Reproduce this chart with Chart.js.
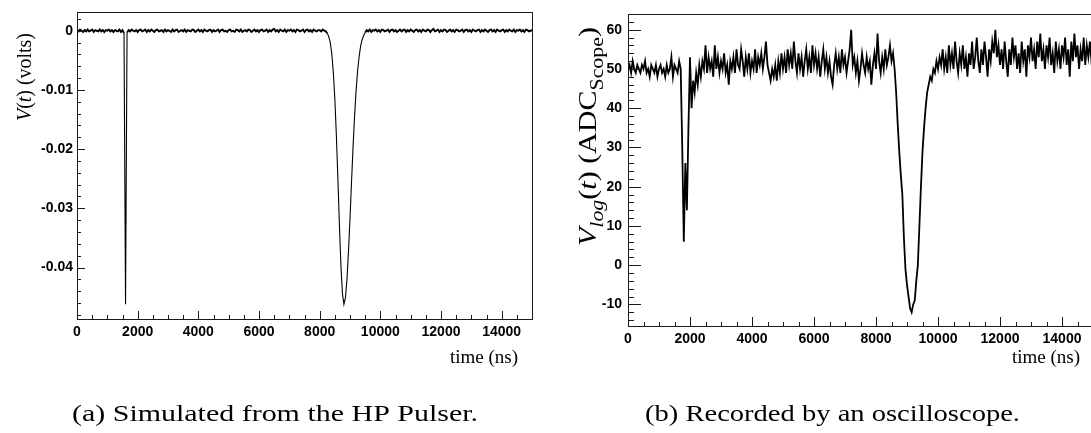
<!DOCTYPE html>
<html>
<head>
<meta charset="utf-8">
<script src="https://cdn.jsdelivr.net/npm/chart.js@4.4.1/dist/chart.umd.min.js"></script>
<style>
  html, body { margin: 0; padding: 0; background: #fff; overflow: hidden; }
  body { width: 1091px; height: 433px; position: relative; }
  .panel { position: absolute; top: 0; height: 433px; }
  #simPanel { left: 0; width: 545px; }
  #scopePanel { left: 550px; width: 560px; }
</style>
</head>
<body>
<div class="panel" id="simPanel"><canvas id="simChart"></canvas></div>
<div class="panel" id="scopePanel"><canvas id="scopeChart"></canvas></div>
<script>
    // one sample every 50 ns, 0 .. 15000 ns
    const sampleStep = 50;

    // (a) simulated pulser output, volts
    const simVolts = [
      0.0001,-0.0001,0.0002,0,-0.0002,0.0001,-0.0001,0.0002,-0.0001,0,0.0002,-0.0002,0.0001,0,-0.0001,0.0002,-0.0001,0.0001,-0.0002,0.0001,
      0,0.0002,-0.0001,0.0001,-0.0002,0.0001,0,-0.0001,0.0002,-0.0002,0.0001,-0.0004,-0.0462,-0.0003,0.0001,-0.0001,0.0002,0,-0.0001,0.0001,
      -0.0002,0.0001,0.0002,-0.0001,0,0.0002,-0.0002,0.0001,-0.0001,0.0002,0,-0.0002,0.0001,0.0002,-0.0001,0,0.0001,-0.0002,0.0002,-0.0001,
      0.0001,0,-0.0002,0.0002,-0.0001,0.0001,0.0002,-0.0002,0,0.0001,-0.0001,0.0002,-0.0002,0.0001,0,-0.0001,0.0002,0.0001,-0.0002,0,
      0.0002,-0.0001,0.0001,-0.0002,0.0002,0,-0.0001,0.0001,0.0002,-0.0002,0.0001,-0.0001,0,0.0002,-0.0002,0.0001,0.0002,-0.0001,0,-0.0002,
      0.0001,0.0002,-0.0001,0,-0.0002,0.0002,0.0001,-0.0001,0.0002,-0.0002,0,0.0001,-0.0001,0.0002,0.0001,-0.0002,0,0.0002,-0.0001,0.0001,
      -0.0002,0.0001,0.0002,-0.0001,0,0.0002,-0.0002,0.0001,-0.0001,0.0002,0.0003,-0.0001,0.0001,-0.0002,0.0002,0,-0.0001,0.0002,-0.0002,0.0001,
      0,0.0002,-0.0001,0.0001,-0.0002,0.0002,0.0001,-0.0001,0,0.0002,-0.0002,0.0001,0.0002,-0.0001,0.0001,-0.0002,0.0002,0,-0.0001,0.0001,
      0.0001,-0.0001,0.0002,0,-0.0001,-0.0004,-0.0010,-0.0020,-0.0039,-0.0070,-0.0115,-0.0176,-0.0249,-0.0327,-0.0396,-0.0444,-0.0462,-0.0451,-0.0420,-0.0373,
      -0.0317,-0.0256,-0.0197,-0.0145,-0.0102,-0.0068,-0.0044,-0.0026,-0.0015,-0.0008,-0.0003,0.0001,-0.0001,0.0002,-0.0002,0.0001,0,0.0002,-0.0001,0.0001,
      -0.0002,0.0002,0.0001,-0.0001,0,0.0002,-0.0002,0.0001,0.0002,-0.0001,0.0001,-0.0002,0,0.0002,-0.0001,0.0001,0.0002,-0.0002,0.0001,-0.0001,
      0.0002,0,-0.0002,0.0001,0.0002,-0.0001,0.0001,-0.0002,0.0002,0,-0.0001,0.0002,0.0001,-0.0002,0.0001,0.0003,-0.0001,0,0.0002,-0.0002,
      0.0001,-0.0001,0.0002,0.0001,-0.0002,0,0.0002,-0.0001,0.0001,-0.0002,0.0002,0.0001,-0.0001,0,0.0002,-0.0002,0.0001,0.0002,-0.0001,0.0001,
      -0.0002,0.0002,0,-0.0001,0.0001,0.0002,-0.0002,0.0001,-0.0001,0.0002,0,-0.0002,0.0001,0.0002,-0.0001,0.0001,-0.0002,0.0002,0,-0.0001,
      0.0001,0.0002,-0.0002,0.0001,-0.0001,0.0002,0,-0.0001,0.0002,-0.0002,0.0001,0,0.0002,-0.0001,0.0001,-0.0002,0.0002,0.0001,-0.0001,0,
      0.0001
    ];

    // (b) oscilloscope record, ADC counts
    const scopeAdc = [
      50,51,49,52,50,49,51,50,49,51,50,52,49,50,48,51,50,49,51,48,
      50,51,49,50,48,51,49,50,53,48,51,50,49,52,50,30,6,26,14,35,
      53,40,47,44,49,46,51,48,52,50,56,49,53,50,52,48,56,50,53,49,
      52,50,54,49,51,46,52,50,53,49,55,51,50,55,52,48,53,50,54,49,
      52,50,55,49,53,51,54,50,53,57,51,49,47,50,48,51,47,52,49,54,
      50,53,49,55,51,54,50,57,52,49,54,50,53,48,52,55,50,53,49,56,
      51,54,50,53,48,52,55,50,53,49,52,48,46,51,54,50,53,49,55,51,
      53,49,52,55,60,51,53,49,52,47,50,54,51,49,53,50,52,46,51,54,
      50,59,52,49,53,50,55,51,53,56,52,54,50,44,36,29,23,18,7,-1,
      -5,-8,-11,-12,-10,-9,-4,0,10,20,29,35,40,44,46,48,47,50,49,52,
      50,53,51,55,50,53,49,56,51,54,50,57,52,49,54,51,56,50,53,48,
      54,51,57,50,53,58,52,49,55,51,57,53,48,55,52,57,54,60,53,56,
      51,55,50,57,52,48,55,51,58,53,56,50,54,49,57,52,55,48,56,53,
      58,52,55,50,57,53,59,52,55,50,56,53,58,51,54,49,57,52,55,50,
      56,53,58,51,55,48,57,52,59,53,56,50,55,52,58,51,56,53,57,52,
      55
    ];

    const xTicks = [0, 2000, 4000, 6000, 8000, 10000, 12000, 14000];
    const simYTicks = [0, -0.01, -0.02, -0.03, -0.04];
    const scopeYTicks = [-10, 0, 10, 20, 30, 40, 50, 60];

    const sampleTimes = simVolts.map((_, i) => i * sampleStep);

    const tickFont = { family: 'Liberation Sans', weight: 'bold', size: 14 };
    const serif = '"Liberation Serif", "Times New Roman", serif';

    // rotated axis title made of pieces (italic / subscript), stretched to `len` px
    function drawRotatedTitle(ctx, pieces, baseX, endY, size, len) {
      let total = 0;
      const fonts = pieces.map(p =>
        (p.italic ? 'italic ' : '') + (p.sub ? Math.round(size * 0.72) : size) + 'px ' + serif);
      const widths = pieces.map((p, i) => {
        ctx.font = fonts[i];
        const w = ctx.measureText(p.t).width;
        total += w;
        return w;
      });
      const sx = len / total;
      ctx.save();
      ctx.translate(baseX, endY + len);
      ctx.rotate(-Math.PI / 2);
      ctx.scale(sx, 1);
      ctx.fillStyle = '#000';
      ctx.textBaseline = 'alphabetic';
      let cx = 0;
      pieces.forEach((p, i) => {
        ctx.font = fonts[i];
        ctx.fillText(p.t, cx, p.sub ? size * 0.28 : 0);
        cx += widths[i];
      });
      ctx.restore();
    }

    // caption stretched to the width it has in the paper (Computer Modern is wide)
    function drawCaption(ctx, text, left, right, baseY) {
      ctx.save();
      ctx.font = '24px ' + serif;
      ctx.fillStyle = '#000';
      ctx.textBaseline = 'alphabetic';
      ctx.textAlign = 'left';
      const w = ctx.measureText(text).width;
      ctx.translate(left, baseY);
      ctx.scale((right - left) / w, 1);
      ctx.fillText(text, 0, 0);
      ctx.restore();
    }

    // ROOT-like frame with inward ticks, axis titles and caption
    function rootDecor(cfg) {
      return {
        id: 'rootDecor',
        afterDraw(chart) {
          const { ctx, chartArea: a, scales: { x, y } } = chart;
          ctx.save();
          ctx.strokeStyle = '#1a1a1a';
          ctx.lineWidth = 1;
          ctx.strokeRect(Math.round(a.left) + 0.5, Math.round(a.top) + 0.5,
                         Math.round(a.right - a.left), Math.round(a.bottom - a.top));
          ctx.beginPath();
          for (let v = 0; v <= 15000; v += 500) {
            const px = Math.round(x.getPixelForValue(v)) + 0.5;
            const len = v % 2000 === 0 ? cfg.xMajor : cfg.xMinor;
            ctx.moveTo(px, a.bottom);
            ctx.lineTo(px, a.bottom - len);
          }
          for (let k = cfg.yMinorFrom; k <= cfg.yMinorTo; k++) {
            const v = k * cfg.yMinorStep;
            const py = Math.round(y.getPixelForValue(v)) + 0.5;
            const len = k % cfg.yMinorPerMajor === 0 ? cfg.yMajor : cfg.yMinor;
            ctx.moveTo(a.left, py);
            ctx.lineTo(a.left + len, py);
          }
          ctx.stroke();

          ctx.font = '19px ' + serif;
          ctx.fillStyle = '#000';
          ctx.textAlign = 'right';
          ctx.textBaseline = 'alphabetic';
          ctx.fillText('time (ns)', cfg.xTitleRight, cfg.xTitleY);
          ctx.restore();

          drawRotatedTitle(ctx, cfg.yTitle, cfg.yTitleX, cfg.yTitleEnd, cfg.yTitleSize, cfg.yTitleLen);
          drawCaption(ctx, cfg.caption, cfg.capLeft, cfg.capRight, cfg.capY);
        }
      };
    }

    function makeChart(id, values, yMin, yMax, yTicks, fmt, box, decor) {
      return new Chart(document.getElementById(id), {
        type: 'line',
        data: {
          datasets: [{
            data: values.map((v, i) => ({ x: sampleTimes[i], y: v })),
            borderColor: '#000',
            borderWidth: box.lineWidth,
            segment: { borderWidth: box.segWidth },
            pointRadius: 0,
            tension: 0
          }]
        },
        options: {
          responsive: true,
          maintainAspectRatio: false,
          animation: false,
          layout: { padding: { top: box.top, right: box.right, left: 0, bottom: 0 } },
          plugins: { legend: { display: false }, tooltip: { enabled: false } },
          scales: {
            x: {
              type: 'linear', min: 0, max: 15000,
              grid: { display: false, drawTicks: false },
              border: { display: false },
              afterFit(s) { s.height = box.xHeight; },
              afterBuildTicks(s) { s.ticks = xTicks.map(v => ({ value: v })); },
              ticks: { autoSkip: false, maxRotation: 0, padding: 5, color: '#000', font: tickFont,
                       callback: v => String(v) }
            },
            y: {
              type: 'linear', min: yMin, max: yMax,
              grid: { display: false, drawTicks: false },
              border: { display: false },
              afterFit(s) { s.width = box.yWidth; },
              afterBuildTicks(s) { s.ticks = yTicks.map(v => ({ value: v })); },
              ticks: { padding: box.yPad, color: '#000', font: tickFont, callback: fmt }
            }
          }
        },
        plugins: [rootDecor(decor)]
      });
    }

    makeChart('simChart', simVolts, -0.0487, 0.0031, simYTicks,
      v => (v === 0 ? '0' : v.toFixed(2)),
      { top: 10, right: 13, xHeight: 114, yWidth: 77, yPad: 4, lineWidth: 1.2,
        // baseline noise drawn heavier than the pulse flanks, as in the figure
        segWidth: c => (Math.abs(c.p0.parsed.y) < 0.0006 && Math.abs(c.p1.parsed.y) < 0.0006 ? 1.9 : 1.1) },
      {
        xMajor: 8, xMinor: 4, yMajor: 8, yMinor: 4,
        yMinorStep: 0.002, yMinorFrom: -24, yMinorTo: 1, yMinorPerMajor: 5,
        xTitleRight: 518, xTitleY: 363,
        yTitle: [
          { t: 'V', italic: true }, { t: '(' }, { t: 't', italic: true }, { t: ') (volts)' }
        ],
        yTitleX: 31, yTitleEnd: 33, yTitleSize: 20, yTitleLen: 88,
        caption: '(a) Simulated from the HP Pulser.', capLeft: 72, capRight: 478, capY: 421
      });

    makeChart('scopeChart', scopeAdc, -15.5, 63.9, scopeYTicks,
      v => String(v),
      { top: 8, right: 17, xHeight: 107, yWidth: 78, yPad: 6, lineWidth: 1.8,
        segWidth: () => 1.8 },
      {
        xMajor: 9, xMinor: 4, yMajor: 13, yMinor: 6,
        yMinorStep: 2, yMinorFrom: -7, yMinorTo: 31, yMinorPerMajor: 5,
        xTitleRight: 530, xTitleY: 363,
        yTitle: [
          { t: 'V', italic: true }, { t: 'log', italic: true, sub: true }, { t: '(' },
          { t: 't', italic: true }, { t: ') (ADC' }, { t: 'Scope', sub: true }, { t: ')' }
        ],
        yTitleX: 46, yTitleEnd: 27, yTitleSize: 26, yTitleLen: 219,
        caption: '(b) Recorded by an oscilloscope.', capLeft: 95, capRight: 470, capY: 421
      });
</script>
</body>
</html>
